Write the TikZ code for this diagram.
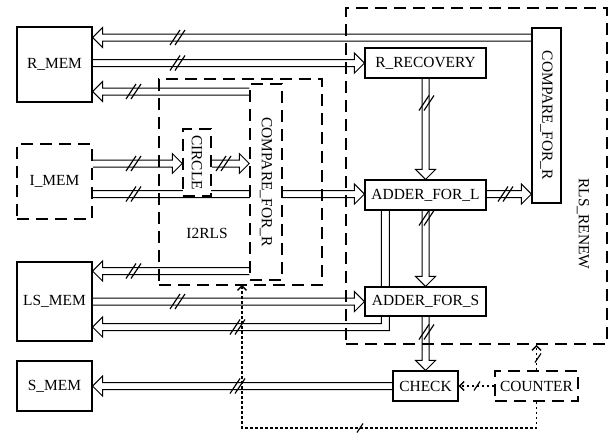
\documentclass[tikz,border=0pt]{standalone}
\usepackage{fontspec}
\setmainfont{Liberation Serif}
\usetikzlibrary{calc,arrows.meta}
\pgfdeclarelayer{bg}
\pgfsetlayers{bg,main}
\newcommand\busarrow[2]{%
  \coordinate (bA) at (#1);
  \coordinate (bT) at (#2);
  \coordinate (bB) at ($(bT)!10bp!(bA)$);
  \draw[busline] ($(bA)!3.5bp!90:(bT)$) -- ($(bB)!3.5bp!90:(bT)$) -- ($(bB)!10bp!90:(bT)$) -- (bT)
     -- ($(bB)!10bp!-90:(bT)$) -- ($(bB)!3.5bp!-90:(bT)$) -- ($(bA)!3.5bp!-90:(bT)$);}
\newcommand\busmark[1]{\draw[markline] ($(#1)+(-7,7.5)$) -- ++(10,-15) ($(#1)+(-2,7.5)$) -- ++(10,-15);}
\newcommand\dotmark[1]{\draw[markline] ($(#1)+(-3,4.5)$) -- ++(6,-9);}
\tikzset{
  box/.style={draw, line width=1.1bp, fill=white, inner sep=0pt},
  dbox/.style={draw, line width=1.5bp, dash pattern=on 12bp off 7bp, inner sep=0pt},
  busline/.style={line width=1bp, line join=miter},
  markline/.style={line width=1.2bp},
  dotline/.style={line width=1.9bp, dash pattern=on 2.5bp off 2.5bp, -{Straight Barb[length=4.5bp,width=9bp,line width=1.5bp]}},
  lbl/.style={inner sep=0pt}
}
\begin{document}
\begin{tikzpicture}[x=1bp, y=-1bp, font=\fontsize{15.5}{18}\selectfont]
\useasboundingbox (0,0) rectangle (611,432);
% containers
\node[dbox, minimum width=163bp, minimum height=206bp] (I2RLS) at (240.5,182) {};
\node[lbl] (I2RLSlbl) at (207,233) {I2RLS};
\node[dbox, minimum width=261bp, minimum height=336bp] (RLS) at (476.5,176) {};
\node[lbl, rotate=-90] (RLSlbl) at (583,224) {RLS\_RENEW};
% memories
\node[box, minimum width=75bp, minimum height=75bp] (R_MEM) at (54.5,64.5) {R\_MEM};
\node[dbox, fill=white, minimum width=75bp, minimum height=75bp] (I_MEM) at (54.5,181.5) {I\_MEM};
\node[box, minimum width=75bp, minimum height=79bp] (LS_MEM) at (54.5,301.5) {LS\_MEM};
\node[box, minimum width=75bp, minimum height=50bp] (S_MEM) at (54.5,386) {S\_MEM};
% I2RLS parts
\node[dbox, fill=white, minimum width=28bp, minimum height=67bp] (CIRCLE) at (197,162.5) {};
\node[lbl, rotate=-90] (CIRCLElbl) at (CIRCLE) {CIRCLE};
\node[dbox, fill=white, minimum width=32bp, minimum height=196bp] (CMPI) at (266,182) {};
\node[lbl, rotate=-90] (CMPIlbl) at (CMPI) {COMPARE\_FOR\_R};
% RLS_RENEW parts
\node[box, minimum width=121bp, minimum height=30bp] (RREC) at (425.5,63) {R\_RECOVERY};
\node[box, minimum width=29bp, minimum height=175bp] (CMPR) at (546.5,115.5) {};
\node[lbl, rotate=-90] (CMPRlbl) at (CMPR) {COMPARE\_FOR\_R};
\node[box, minimum width=121bp, minimum height=30bp] (ADDL) at (425.5,195) {ADDER\_FOR\_L};
\node[box, minimum width=121bp, minimum height=29bp] (ADDS) at (425.5,301.5) {ADDER\_FOR\_S};
\node[box, minimum width=65bp, minimum height=30bp] (CHECK) at (425.5,386) {CHECK};
\node[dbox, fill=white, minimum width=83bp, minimum height=30bp] (COUNTER) at (536.5,386) {COUNTER};
% buses
\begin{pgfonlayer}{bg}
\busarrow{CMPR.west |- 0,37.5}{R_MEM.east |- 0,37.5}
\busarrow{R_MEM.east |- RREC.west}{RREC.west}
\busarrow{CMPI.west |- 0,91.5}{R_MEM.east |- 0,91.5}
\busarrow{I_MEM.east |- 0,163.5}{CIRCLE.west |- 0,163.5}
\busarrow{CIRCLE.east |- 0,163.5}{CMPI.west |- 0,163.5}
\busarrow{I_MEM.east |- 0,194}{ADDL.west |- 0,194}
\busarrow{RREC.south}{ADDL.north}
\busarrow{ADDL.east |- 0,194}{CMPR.west |- 0,194}
\busarrow{ADDL.south}{ADDS.north}
\busarrow{LS_MEM.east |- ADDS.west}{ADDS.west}
\busarrow{CMPI.west |- 0,271}{LS_MEM.east |- 0,271}
\busarrow{ADDS.south}{CHECK.north}
\busarrow{CHECK.west}{S_MEM.east |- CHECK.west}
\draw[busline] ($(ADDL.south west)+(25,0)$) |- ($(LS_MEM.east)+(10,29)$) -- ++(0,6.5)
   -- ($(LS_MEM.east)+(0,25.5)$) -- ++(10,-10) -- ++(0,6.5) -| ($(ADDL.south west)+(17,0)$);
\end{pgfonlayer}
% bus width marks
\busmark{177,37.5}
\busmark{177,63}
\busmark{133,91.5}
\busmark{133,163.5}
\busmark{223,163.5}
\busmark{133,194}
\busmark{426,103}
\busmark{505,194}
\busmark{426,218}
\busmark{237,327}
\busmark{177,301.5}
\busmark{133,271}
\busmark{426,332}
\busmark{237,386}
% control (dotted)
\coordinate (dl) at (242,428);
\draw[dotline] (COUNTER.west) -- (CHECK.east);
\draw[dotline, shorten >=-1bp] (COUNTER.south) |- (dl) -- (dl |- I2RLS.south);
\draw[dotline] (COUNTER.north) -- (COUNTER.north |- RLS.south);
\dotmark{477,386}
\dotmark{360,428}
\dotmark{538,358}
\end{tikzpicture}
\end{document}
